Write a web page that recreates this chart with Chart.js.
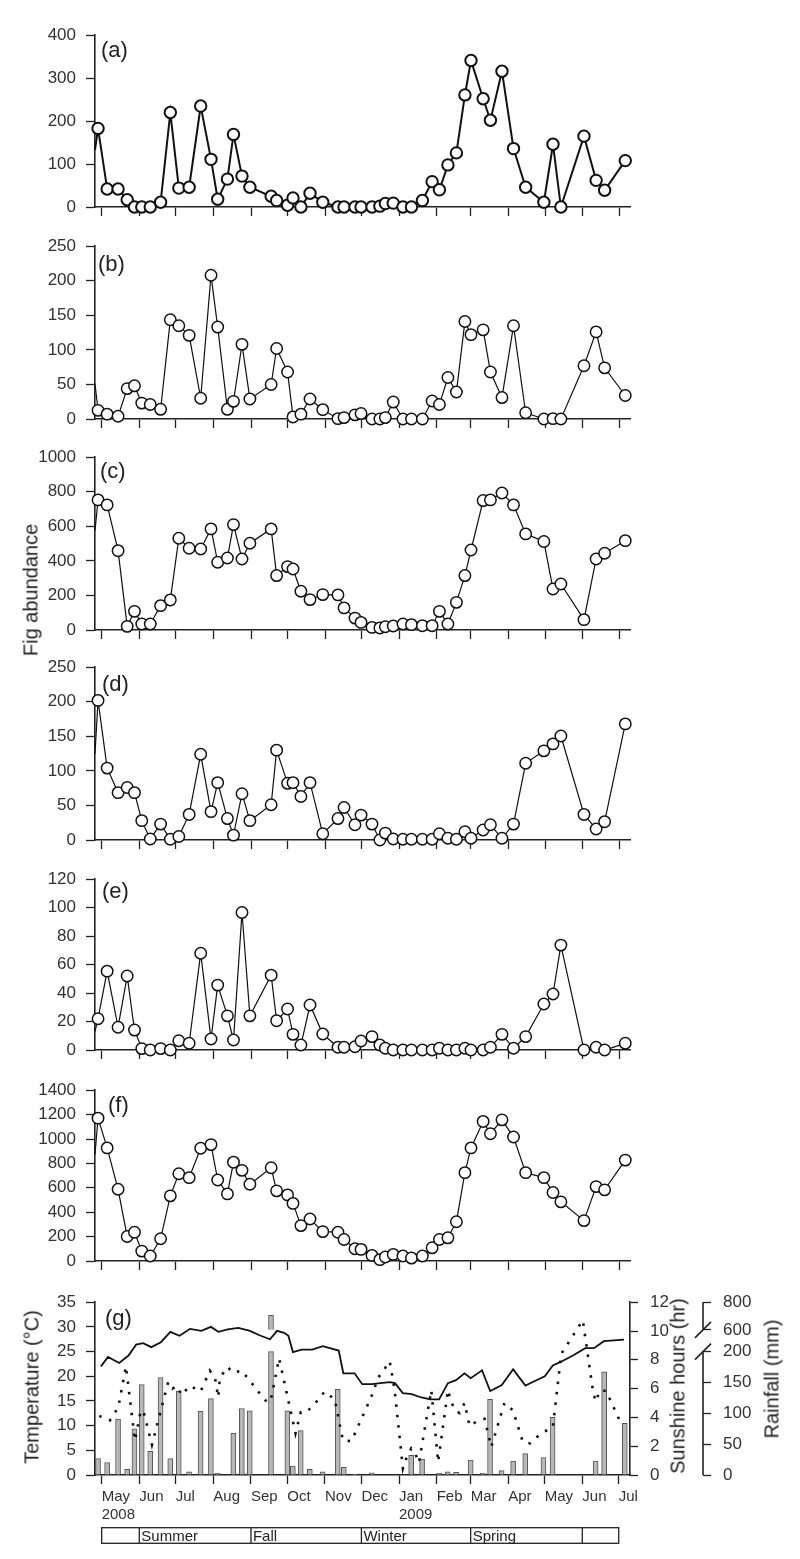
<!DOCTYPE html>
<html>
<head>
<meta charset="utf-8">
<script src="https://cdn.jsdelivr.net/npm/chart.js@4.4.1/dist/chart.umd.min.js"></script>
<style>
  html, body { margin: 0; padding: 0; background: #fff; }
  #wrap { position: relative; width: 800px; height: 1559px; overflow: hidden; }
  canvas { position: absolute; left: 0; }
  .ytitle {
    position: absolute;
    font: 20px "Liberation Sans", Arial, sans-serif;
    color: #222;
    white-space: nowrap;
    transform: translate(-50%, -50%) rotate(-90deg);
  }
</style>
</head>
<body>
<div id="wrap">
  <canvas id="pa"></canvas>
  <canvas id="pb"></canvas>
  <canvas id="pc"></canvas>
  <canvas id="pd"></canvas>
  <canvas id="pe"></canvas>
  <canvas id="pf"></canvas>
  <canvas id="pg"></canvas>
  <div class="ytitle" style="left:31px; top:590px">Fig abundance</div>
  <div class="ytitle" style="left:32px; top:1387px">Temperature (°C)</div>
  <div class="ytitle" style="left:678px; top:1386px">Sunshine hours (hr)</div>
  <div class="ytitle" style="left:772px; top:1379px">Rainfall (mm)</div>
</div>
<script>
// sampling dates, days since 1 May 2008
const sampleDays = [-3, 4.5, 13.5, 21, 27, 33, 40, 48.5, 56.5, 63.5, 72, 81.5, 90, 95.5, 103.5, 108.5, 115.5, 122,
  139.5, 144, 153, 157.5, 164, 171.5, 182, 194.5, 199.5, 208.5, 213.5, 222.5, 229, 233.5, 240, 248, 255, 264, 272,
  278, 285, 292, 299, 304, 314, 320, 329.5, 339, 349, 364, 371.5, 378, 397, 407, 414, 431];

// fig abundance per panel (a)-(f)
const figA = [183, 42, 42, 17, 0, 0, 0, 11, 220, 44, 46, 235, 111, 18, 65, 169, 72, 46, 25, 15, 4, 21, 0, 32, 11, 0,
  0, 0, 0, 0, 2, 8, 9, 0, 0, 15, 59, 40, 98, 126, 261, 341, 252, 202, 316, 136, 46, 11, 146, 0, 165, 62, 39, 108];
const figB = [12.5, 7, 4, 44, 48, 23, 21, 14, 143.5, 135, 121, 30, 208, 133, 14, 25.5, 108, 29, 50, 102, 68, 3, 7, 29,
  13.5, 0.5, 2, 6, 8, 0, 0, 2, 24.5, 0, 0, 0, 26, 21, 60, 39, 141, 122, 129, 68, 31, 135, 9, 0, 0.5, 0, 77, 126, 74, 34];
const figC = [753, 724, 459, 21, 108, 35, 35, 141, 174, 531, 473, 469, 585, 392, 417, 610, 411, 502, 585, 315, 367,
  353, 224, 176, 205, 203, 128, 69, 44, 15, 12, 19, 23, 35, 31, 25, 25, 108, 35, 160, 315, 463, 749, 753, 793, 724,
  556, 512, 237, 266, 60, 411, 444, 517];
const figD = [202, 104, 68.5, 76, 68.5, 28, 1.5, 23, 1, 5, 37, 124, 41, 83, 31, 7, 67, 28, 51, 130, 82, 83, 63, 83, 9,
  31, 47, 22, 36, 23, 0, 10, 1.5, 1, 1, 1, 1, 9, 2.5, 1, 12, 2.5, 14.5, 22, 2.5, 23, 111, 129, 139, 150.5, 37, 16,
  26.5, 168];
const figE = [22, 55.4, 16, 52, 14, 1, 0, 1, 0, 6.5, 4.7, 68, 7.7, 45.6, 24, 7, 96.6, 24, 52.6, 20.6, 28.8, 11, 3.5,
  31.6, 11.2, 1.9, 1.9, 2.3, 6.3, 9.4, 3.5, 1.2, 0, 0, 0, 0, 0, 1.2, 0, 0, 1.2, 0, 0, 1.9, 11, 1.2, 9.4, 32.3, 39.3,
  73.7, 0, 1.9, 0, 4.7];
const figF = [1171, 927, 588, 201, 236, 81, 41, 182, 534, 715, 683, 924, 954, 664, 550, 810, 743, 629, 764, 575, 542,
  472, 290, 344, 241, 236, 176, 100, 95, 46, 11, 33, 54, 41, 24, 41, 108, 176, 190, 322, 724, 927, 1144, 1043, 1157,
  1016, 724, 683, 561, 485, 331, 610, 583, 827];
// value where each line enters at the left axis (previous sample, off the plot)
const leadIn = [133, 51, 575, 125, 13, 873];

// (g) weather
const rainMm = [26.7, 20.3, 90.7, 9, 74.7, 146.7, 38.4, 158, 26.7, 136, 5.3, 103, 123.7, 2.7, 0, 67.7, 107.7, 104,
  705, 0, 104, 14.4, 72, 9, 5.3, 138.7, 12.3, 1.6, 0, 3.7, 0, 0, 0, 0, 32, 25.6, 0, 2.7, 5.3, 4.3, 0, 24, 2.7, 122.7,
  7, 22.4, 34.7, 28.3, 93.3, 0, 0, 22.4, 167, 83.7];
const tempDays = [-0.6, 5.2, 14.5, 22.1, 28.4, 34.2, 40.9, 48.8, 56.6, 64.1, 72.8, 82.1, 90, 96.1, 103.9, 112.6,
  122.2, 130, 138.7, 144.5, 150.3, 153.8, 157.6, 164.8, 173.5, 182.2, 188, 195.3, 199.1, 208.4, 214.7, 222.9, 229.5,
  237.4, 241.7, 248.1, 255.4, 263.5, 270.8, 278, 285.3, 291.9, 298.9, 304.1, 313.4, 320.1, 329.7, 339, 349.1, 356.4,
  365.1, 371.7, 378.1, 388.3, 398.4, 405.6, 413.8, 430.4];
const tempC = [22.0, 23.9, 22.7, 24.2, 26.4, 26.7, 25.9, 26.9, 29.0, 28.2, 29.6, 29.2, 30.0, 29.0, 29.5, 29.8, 29.2,
  28.3, 27.5, 29.2, 28.8, 28.2, 24.9, 25.4, 25.4, 26.1, 25.7, 25.2, 20.6, 20.6, 18.4, 18.4, 18.6, 18.8, 18.6, 16.6,
  16.4, 15.7, 15.3, 15.3, 18.6, 19.2, 20.6, 19.6, 21.2, 17.0, 18.2, 21.4, 18.1, 19.0, 20.0, 22.2, 22.9, 24.2, 25.7,
  25.7, 27.1, 27.4];
const sunDays = [-2, 6.8, 13.7, 20, 27.4, 32.3, 34.8, 41.4, 54.8, 58.4, 61.7, 65.8, 72.7, 81.5, 89.1, 93.3, 96, 97.4,
  103.7, 108.3, 115.2, 122.1, 128.9, 135.8, 139.1, 146.2, 159.7, 164, 168.7, 177, 183.8, 192, 198.8, 205.8, 223,
  227.7, 231.8, 237.3, 241.4, 248.2, 251, 255.1, 257.9, 261.4, 271.6, 277.2, 285.3, 287.2, 290.8, 294.9, 299, 303.1,
  308.6, 315.5, 321, 331.9, 338.8, 347, 353.1, 362.1, 371.7, 378.6, 396.4, 405.2, 407.4, 410.1, 415.6, 428];
const sunHr = [4.1, 3.8, 4.7, 7.55, 2.4, 4.5, 4.3, 2.1, 6.45, 6.0, 6.2, 5.55, 6.2, 5.8, 7.25, 6.8, 5.4, 6.75, 7.5, 7.1,
  7.25, 6.55, 5.8, 5.1, 5.1, 8.1, 2.9, 4.35, 4.35, 5.1, 5.8, 5.25, 2.4, 2.35, 5.6, 6.75, 7.2, 7.9, 5.9, 0.45, 1.15,
  1.85, 1.6, 0.85, 5.9, 0.9, 5.9, 5.3, 4.5, 4.3, 5.0, 3.4, 3.7, 3.9, 1.95, 5.0, 4.5, 2.3, 2.2, 2.9, 3.3, 8.4, 10.75,
  5.6, 5.1, 5.85, 5.85, 3.55];

// month ticks and season strip
const monthDays = [0, 31, 61, 92, 123, 153, 184, 214, 245, 276, 304, 335, 365, 396, 426];
const monthNames = ["May", "Jun", "Jul", "Aug", "Sep", "Oct", "Nov", "Dec", "Jan", "Feb", "Mar", "Apr", "May", "Jun", "Jul"];
const yearNames = { 0: "2008", 8: "2009" };
const seasonEdges = [0, 31, 123, 214, 304, 396, 426];
const seasonNames = ["", "Summer", "Fall", "Winter", "Spring", ""];
// rainfall axis is broken between 200 and 600 mm
const rainTicks = [0, 50, 100, 150, 200, 600, 800];

const X_MIN = -5.5;
const X_MAX = 435.3;
const FONT = '"Liberation Sans", Arial, sans-serif';
const INK = "#222";

Chart.defaults.font.family = FONT;
Chart.defaults.color = "#333";

function rainToAxis(v) {
  return v <= 200 ? v : 235.2 + (v - 600) * 0.224;
}

const panelLabel = {
  id: "panelLabel",
  afterDraw(chart, args, opts) {
    const { ctx, chartArea } = chart;
    ctx.save();
    ctx.font = "22px " + FONT;
    ctx.fillStyle = INK;
    ctx.textBaseline = "middle";
    ctx.fillText(opts.text, chartArea.left + opts.dx, chartArea.top + opts.dy);
    ctx.restore();
  },
};

function monthAxis(showLabels, height) {
  return {
    type: "linear",
    min: X_MIN,
    max: X_MAX,
    offset: false,
    afterBuildTicks: (s) => {
      s.ticks = monthDays.map((v) => ({ value: v }));
    },
    afterFit: (s) => {
      s.height = height;
    },
    grid: { drawOnChartArea: false, tickLength: 9, tickColor: INK, tickWidth: 1.3, offset: false },
    border: { color: INK, width: 1.6 },
    ticks: {
      display: showLabels,
      align: "start",
      maxRotation: 0,
      autoSkip: false,
      padding: 4,
      font: { size: 15 },
      callback: (v, i) => (yearNames[i] ? [monthNames[i], yearNames[i]] : monthNames[i]),
    },
  };
}

function leftAxis(max, step) {
  return {
    min: 0,
    max: max,
    afterFit: (s) => {
      s.width = 95;
    },
    grid: { drawOnChartArea: false, tickLength: 9, tickColor: INK, tickWidth: 1.3 },
    border: { color: INK, width: 1.6 },
    ticks: { stepSize: step, padding: 10, font: { size: 17 }, callback: (v) => String(v) },
  };
}

function abundancePanel(id, top, h, label, dx, dy, lead, vals, yMax, yStep, thick) {
  const canvas = document.getElementById(id);
  const H = h + 42;
  canvas.width = 800;
  canvas.height = H;
  canvas.style.top = top - 20 + "px";
  const pts = [{ x: X_MIN, y: lead }].concat(sampleDays.map((d, i) => ({ x: d, y: vals[i] })));
  return new Chart(canvas, {
    type: "line",
    data: {
      datasets: [
        {
          data: pts,
          borderColor: "#111",
          borderWidth: thick ? 2 : 1.2,
          pointRadius: (c) => (c.dataIndex === 0 ? 0 : 5.7),
          pointBackgroundColor: "#fff",
          pointBorderColor: "#111",
          pointBorderWidth: thick ? 2 : 1.5,
          clip: false,
        },
      ],
    },
    options: {
      responsive: false,
      animation: false,
      events: [],
      layout: { padding: { top: 20, right: 169.5, bottom: 0, left: 0 } },
      plugins: {
        legend: { display: false },
        tooltip: { enabled: false },
        panelLabel: { text: label, dx: dx, dy: dy },
      },
      scales: {
        x: monthAxis(false, 22),
        y: leftAxis(yMax, yStep),
      },
    },
    plugins: [panelLabel],
  });
}

abundancePanel("pa", 35, 172, "(a)", 6, 16, leadIn[0], figA, 400, 100, true);
abundancePanel("pb", 246, 173, "(b)", 3, 19, leadIn[1], figB, 250, 50, false);
abundancePanel("pc", 457, 173, "(c)", 5, 15, leadIn[2], figC, 1000, 200, false);
abundancePanel("pd", 667, 173, "(d)", 7, 18, leadIn[3], figD, 250, 50, false);
abundancePanel("pe", 879, 171, "(e)", 7, 13, leadIn[4], figE, 120, 20, false);
abundancePanel("pf", 1090, 171, "(f)", 13, 16, leadIn[5], figF, 1400, 200, false);

// (g) temperature, sunshine and rainfall
const brokenRainAxis = {
  id: "brokenRainAxis",
  afterDraw(chart) {
    const { ctx } = chart;
    const s = chart.scales.yRain;
    const x = s.left;
    const y0 = s.getPixelForValue(0);
    const yLow = s.getPixelForValue(rainToAxis(200));
    const yHigh = s.getPixelForValue(rainToAxis(600));
    const yTop = s.getPixelForValue(rainToAxis(800));
    ctx.save();
    ctx.strokeStyle = INK;
    ctx.lineWidth = 1.6;
    ctx.beginPath();
    ctx.moveTo(x, y0);
    ctx.lineTo(x, yLow);
    ctx.moveTo(x, yHigh);
    ctx.lineTo(x, yTop);
    [yLow, yHigh].forEach((yy) => {
      ctx.moveTo(x - 8, yy + 8);
      ctx.lineTo(x + 8, yy - 8);
    });
    ctx.stroke();

    // season strip under the month labels
    const xs = chart.scales.x;
    const top = 247.7;
    const bot = 263.3;
    ctx.lineWidth = 1.3;
    ctx.strokeRect(xs.getPixelForValue(seasonEdges[0]), top,
      xs.getPixelForValue(seasonEdges[seasonEdges.length - 1]) - xs.getPixelForValue(seasonEdges[0]), bot - top);
    ctx.font = "15px " + FONT;
    ctx.fillStyle = INK;
    ctx.textBaseline = "middle";
    seasonEdges.forEach((d, i) => {
      const px = xs.getPixelForValue(d);
      if (i > 0 && i < seasonEdges.length - 1) {
        ctx.beginPath();
        ctx.moveTo(px, top);
        ctx.lineTo(px, bot);
        ctx.stroke();
      }
      if (seasonNames[i]) ctx.fillText(seasonNames[i], px + 2, (top + bot) / 2 + 1);
    });
    ctx.restore();
  },
};

const gCanvas = document.getElementById("pg");
gCanvas.width = 800;
gCanvas.height = 279;
gCanvas.style.top = "1280px";

const rainLow = [];
const rainHigh = [];
sampleDays.forEach((d, i) => {
  const v = rainMm[i];
  if (v > 0) rainLow.push({ x: d, y: Math.min(v, 200) });
  if (v > 600) rainHigh.push({ x: d, y: [rainToAxis(600), rainToAxis(v)] });
});

const barStyle = {
  type: "bar",
  yAxisID: "yRain",
  backgroundColor: "#b8b8b8",
  borderColor: "#555",
  borderWidth: 1,
  barThickness: 5,
  grouped: false,
  order: 3,
};

new Chart(gCanvas, {
  type: "line",
  data: {
    datasets: [
      {
        data: tempDays.map((d, i) => ({ x: d, y: tempC[i] })),
        yAxisID: "y",
        borderColor: "#111",
        borderWidth: 1.8,
        pointRadius: 0,
        order: 1,
      },
      {
        data: sunDays.map((d, i) => ({ x: d, y: sunHr[i] })),
        yAxisID: "ySun",
        borderColor: "#111",
        borderWidth: 2.6,
        borderDash: [2.5, 8],
        borderCapStyle: "butt",
        pointRadius: 0,
        order: 2,
      },
      Object.assign({ data: rainLow }, barStyle),
      Object.assign({ data: rainHigh }, barStyle),
    ],
  },
  options: {
    responsive: false,
    animation: false,
    events: [],
    layout: { padding: { top: 20, right: 0, bottom: 0, left: 0 } },
    plugins: {
      legend: { display: false },
      tooltip: { enabled: false },
      panelLabel: { text: "(g)", dx: 10, dy: 17 },
    },
    scales: {
      x: monthAxis(true, 84),
      y: leftAxis(35, 5),
      ySun: {
        position: "right",
        min: 0,
        max: 12,
        afterFit: (s) => {
          s.width = 73;
        },
        grid: { drawOnChartArea: false, tickLength: 8, tickColor: INK, tickWidth: 1.3 },
        border: { color: INK, width: 1.6 },
        ticks: { stepSize: 2, padding: 12, font: { size: 17 } },
      },
      yRain: {
        position: "right",
        min: 0,
        max: 280,
        afterBuildTicks: (s) => {
          s.ticks = rainTicks.map((v) => ({ value: rainToAxis(v) }));
        },
        afterFit: (s) => {
          s.width = 97;
        },
        grid: { drawOnChartArea: false, tickLength: 8, tickColor: INK, tickWidth: 1.3 },
        border: { display: false },
        ticks: { padding: 12, font: { size: 17 }, callback: (v, i) => String(rainTicks[i]) },
      },
    },
  },
  plugins: [panelLabel, brokenRainAxis],
});
</script>
</body>
</html>
